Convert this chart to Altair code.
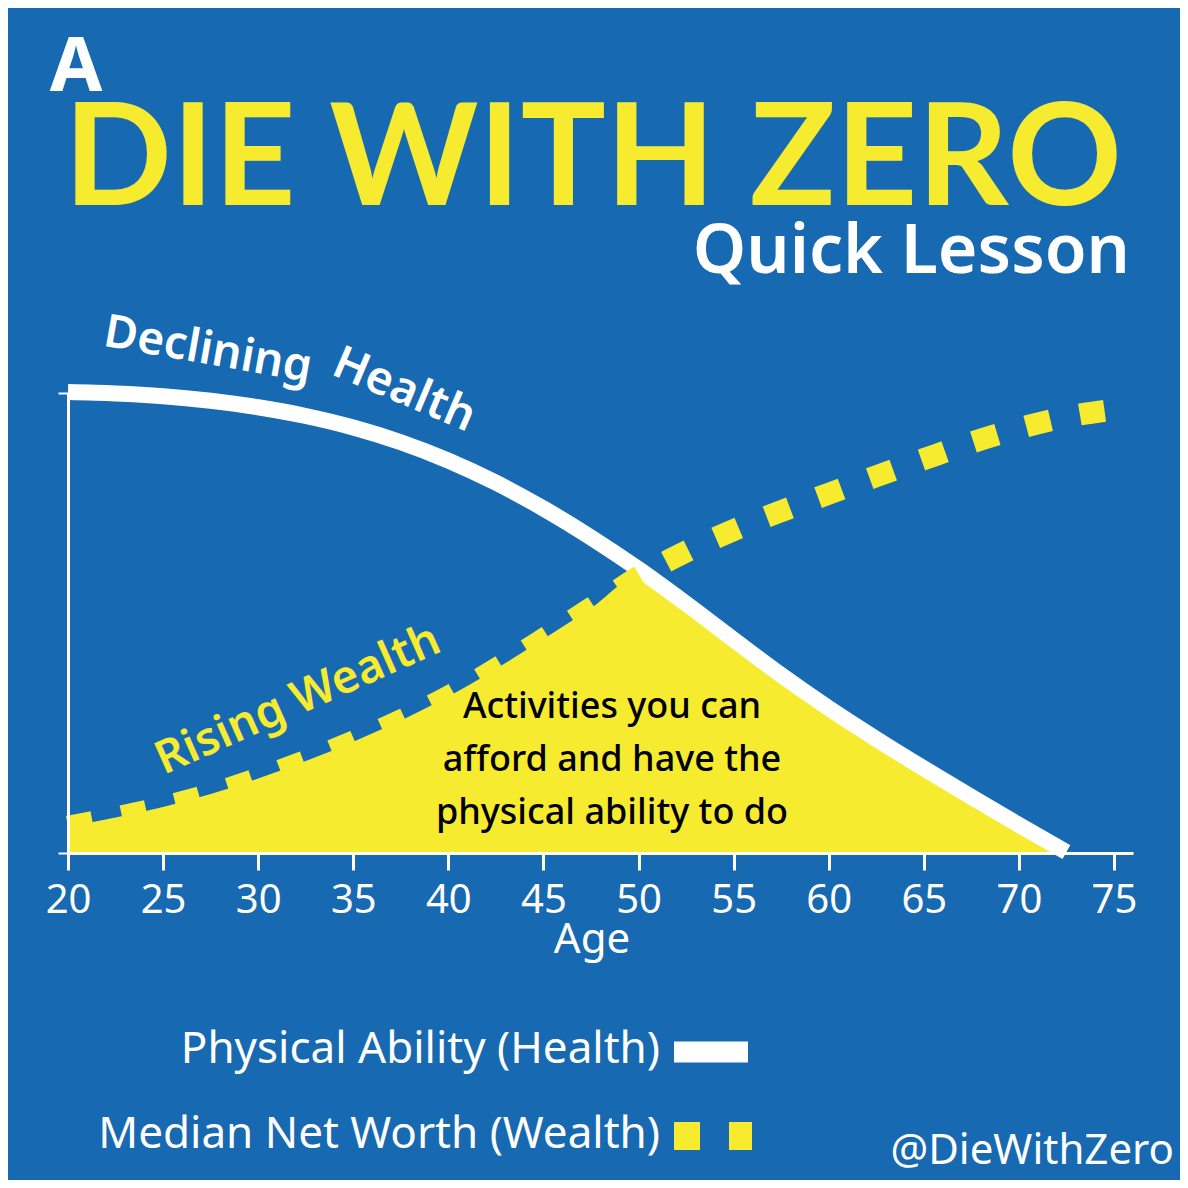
import altair as alt
import pandas as pd
import numpy as np

# ---------------- data ----------------
ages = [20, 22.5, 25, 27.5, 30, 32.5, 35, 37.5, 40, 42.5, 45, 47.5, 50,
        52.5, 55, 57.5, 60, 62.5, 65, 67.5, 70, 72.5, 75]
health = [100.2, 99.9, 99.3, 98.3, 96.9, 95.0, 92.5, 89.3, 85.3, 80.5, 74.9, 68.6, 61.7,
          54.2, 46.4, 38.7, 31.5, 24.8, 18.4, 12.2, 6.1, 0.2, None]
wealth = [5.7, 7.7, 10.0, 12.8, 16.2, 20.0, 24.2, 28.8, 34.0, 40.0, 46.5, 53.2, 60.0,
          65.5, 70.2, 74.3, 78.1, 81.9, 85.6, 89.2, 92.3, 94.8, 96.4]
tick_ages = [20, 25, 30, 35, 40, 45, 50, 55, 60, 65, 70, 75]

title_main = "DIE WITH ZERO"
title_top = "A"
title_sub = "Quick Lesson"
label_health_1 = "Declining"
label_health_2 = "Health"
label_wealth = "Rising Wealth"
annotation_lines = ["Activities you can", "afford and have the", "physical ability to do"]
axis_title = "Age"
legend_health = "Physical Ability (Health)"
legend_wealth = "Median Net Worth (Wealth)"
handle = "@DieWithZero"

BG = "#1769b2"
YELLOW = "#f6eb2f"
WHITE = "#ffffff"
FONT = "Noto Sans"

h = np.array([np.nan if v is None else v for v in health], dtype=float)
w = np.array(wealth, dtype=float)
df = pd.DataFrame({"age": ages, "health": h, "wealth": w, "fill": np.minimum(h, w)})

x_scale = alt.Scale(domain=[20, 76], nice=False, zero=False)
y_scale = alt.Scale(domain=[0, 100], nice=False)

x_axis = alt.Axis(values=tick_ages, title=None, grid=False, domainColor=WHITE, domainWidth=3,
                  tickColor=WHITE, tickWidth=3, tickSize=17, labelColor=WHITE, labelFont=FONT,
                  labelFontSize=40, labelPadding=10, zindex=1, labelFlush=False)
y_axis = alt.Axis(values=[0, 100], title=None, grid=False, labels=False, domainColor=WHITE,
                  domainWidth=3, tickColor=WHITE, tickWidth=2, tickSize=10, zindex=1)

base = alt.Chart(df)

fill = base.mark_area(color=YELLOW, interpolate="monotone", opacity=1).encode(
    x=alt.X("age:Q", scale=x_scale, axis=x_axis),
    y=alt.Y("fill:Q", scale=y_scale, axis=y_axis),
)
health_line = base.mark_line(color=WHITE, strokeWidth=16, interpolate="monotone",
                             strokeCap="butt").encode(
    x=alt.X("age:Q", scale=x_scale), y=alt.Y("health:Q", scale=y_scale))
wealth_line = base.mark_line(color=YELLOW, strokeWidth=22, interpolate="monotone",
                             strokeDash=[25, 30], strokeCap="butt").encode(
    x=alt.X("age:Q", scale=x_scale), y=alt.Y("wealth:Q", scale=y_scale))

one = pd.DataFrame({"k": [0]})


def txt(text, x, y, font=FONT, **kw):
    return alt.Chart(one).mark_text(font=font, **kw).encode(
        x=alt.value(x), y=alt.value(y), text=alt.value(text))


texts = [
    txt(title_top, 8, -302, fontSize=76, fontWeight="bold", color=WHITE, align="center",
        baseline="alphabetic"),
    txt(title_main, 525, -188, fontSize=142, fontWeight="bold", color=YELLOW, align="center",
        baseline="alphabetic", font="Lato"),
    txt(title_sub, 1062, -120, fontSize=68, fontWeight=600, color=WHITE, align="right",
        baseline="alphabetic"),
    txt(label_health_1, 140, -43, fontSize=46, fontWeight=600, color=WHITE, align="center",
        baseline="middle", angle=10),
    txt(label_health_2, 336, -3, fontSize=46, fontWeight=600, color=WHITE, align="center",
        baseline="middle", angle=23),
    txt(label_wealth, 230, 307, fontSize=46, fontWeight=600, color=YELLOW, align="center",
        baseline="middle", angle=336),
    txt(annotation_lines, 544, 314, fontSize=36, fontWeight=500, color="#000000",
        align="center", baseline="middle", lineHeight=53),
    txt(axis_title, 524, 547, fontSize=42, color=WHITE, align="center", baseline="middle"),
    txt(legend_health, 592, 670, fontSize=44, color=WHITE, align="right",
        baseline="alphabetic"),
    txt(legend_wealth, 592, 755, fontSize=44, color=WHITE, align="right",
        baseline="alphabetic"),
    txt(handle, 1106, 771, fontSize=42, color=WHITE, align="right", baseline="alphabetic"),
]

legend_health_sw = alt.Chart(one).mark_rule(color=WHITE, strokeWidth=21, strokeCap="butt").encode(
    x=alt.value(606), x2=alt.value(680), y=alt.value(659))
legend_wealth_sw = alt.Chart(one).mark_rule(color=YELLOW, strokeWidth=28, strokeCap="butt",
                                            strokeDash=[26, 29]).encode(
    x=alt.value(606), x2=alt.value(684), y=alt.value(743))

chart = alt.layer(fill, health_line, wealth_line, legend_health_sw, legend_wealth_sw, *texts).properties(
    width=1065, height=460,
    padding={"left": 60, "top": 385, "right": 47, "bottom": 327},
    autosize=alt.AutoSizeParams(type="none"),
    background=BG,
).configure_view(stroke=None)

chart.save("out.html", embed_options={"renderer": "svg", "actions": False})
